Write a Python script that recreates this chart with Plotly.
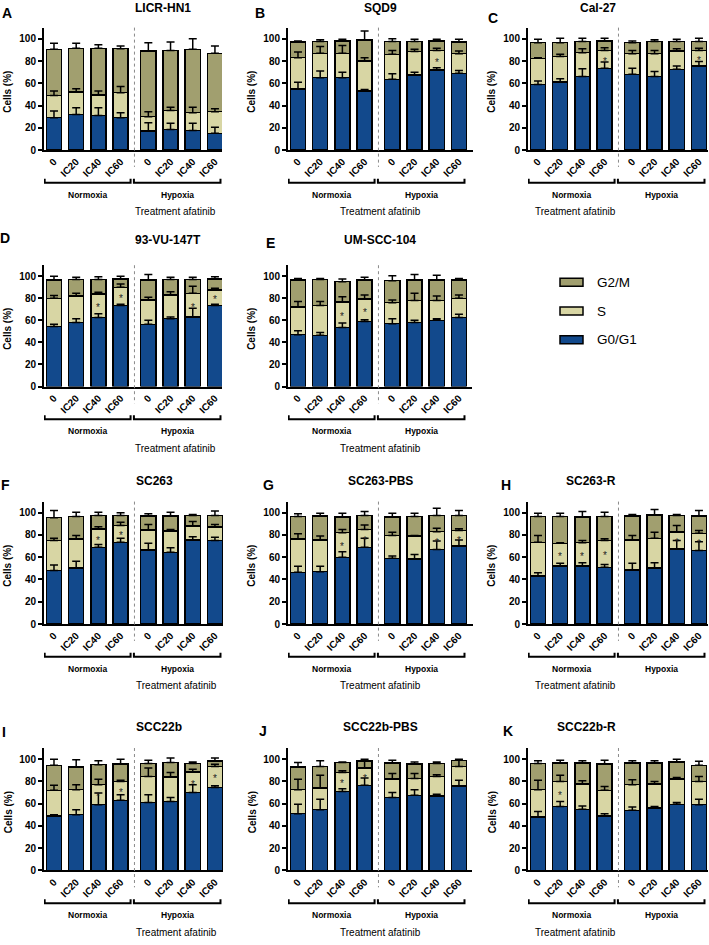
import plotly.graph_objects as go

# cell cycle phases, treatment doses and oxygen conditions
phases = ["G0/G1", "S", "G2/M"]
colors = ["#12498c", "#d8d6a4", "#a19f6f"]
doses = ["0", "IC20", "IC40", "IC60"]
conditions = ["Normoxia", "Hypoxia"]

# A  LICR-HN1  (segment % per bar: Normoxia 0..IC60, Hypoxia 0..IC60)
licr_g1 = [29, 32, 31, 29, 17, 18.5, 17.5, 15]
licr_s = [20, 20, 18.5, 22.5, 13, 17, 16, 19.5]
licr_g2m = [41.5, 39.5, 42, 39.5, 59, 54, 57, 52.5]
licr_g1_sd = [6, 6, 7, 4.5, 7.5, 5.5, 6.5, 5.5]
licr_s_sd = [4, 3, 3.5, 5.5, 4.5, 3, 5, 2.5]
licr_g2m_sd = [5.5, 4.5, 3, 2.5, 7.5, 7.5, 9.5, 6.5]
licr_stars = []

# B  SQD9
sqd9_g1 = [55, 65, 65, 53, 63.5, 67.5, 72, 69]
sqd9_s = [28, 22, 22, 27, 22.5, 21, 17.5, 17.5]
sqd9_g2m = [14, 10.5, 11, 19, 11.5, 9, 8.5, 10.5]
sqd9_g1_sd = [6, 6, 5, 1.5, 5, 2.5, 2, 2.5]
sqd9_s_sd = [5, 6, 7, 3, 3.5, 2, 2, 2.5]
sqd9_g2m_sd = [1, 1.5, 1.5, 8, 2.5, 2, 1.5, 2.5]
sqd9_stars = [6]

# C  Cal-27
cal_g1 = [59, 61, 66, 73.5, 68, 66, 72.5, 75.5]
cal_s = [23.5, 23, 21.5, 16, 18.5, 20.5, 16.5, 14]
cal_g2m = [14, 12.5, 10, 8.5, 10, 11, 8.5, 8]
cal_g1_sd = [3, 3, 7, 5.5, 5.5, 4.5, 3, 4]
cal_s_sd = [0.5, 2, 3.5, 2.5, 3, 3, 2, 2]
cal_g2m_sd = [3, 4, 3, 2.5, 1.5, 1.5, 2, 3]
cal_stars = [3, 7]

# D  93-VU-147T
vu_g1 = [54.5, 58, 62.5, 73.5, 56.5, 61.5, 63, 73.5]
vu_s = [25.5, 24, 21.5, 16.5, 22, 21.5, 21.5, 14]
vu_g2m = [16.5, 15, 13, 7.5, 18, 14, 12.5, 10]
vu_g1_sd = [2, 3.5, 3.5, 1, 3.5, 1.5, 8, 1]
vu_s_sd = [2.5, 2.5, 1.5, 3, 2.5, 3, 6.5, 1.5]
vu_g2m_sd = [3.5, 2, 2.5, 2.5, 5, 2, 2, 2]
vu_stars = [2, 3, 6, 7]

# E  UM-SCC-104
um_g1 = [47, 46.5, 53.5, 59, 57, 58, 60, 62.5]
um_s = [25, 27, 23, 20.5, 19, 20, 18, 17.5]
um_g2m = [24.5, 23.5, 18.5, 17, 20, 18.5, 18.5, 16.5]
um_g1_sd = [3.5, 2.5, 4, 1.5, 4.5, 2, 1.5, 3]
um_s_sd = [5, 3.5, 5, 3.5, 2.5, 6.5, 4, 3]
um_g2m_sd = [1.5, 1, 2.5, 2.5, 4.5, 5, 4.5, 1.5]
um_stars = [2, 3]

# F  SC263
sc_g1 = [48, 50.5, 69, 73.5, 66.5, 64.5, 75.5, 75]
sc_s = [27, 26, 16.5, 15, 18, 19, 12.5, 12]
sc_g2m = [20.5, 20, 12, 9, 12.5, 13.5, 9.5, 10.5]
sc_g1_sd = [5, 6, 2.5, 3.5, 6, 4, 3, 3]
sc_s_sd = [2, 3, 2, 3, 5, 1.5, 4, 2.5]
sc_g2m_sd = [6.5, 4, 3, 2.5, 2, 3.5, 1, 4]
sc_stars = [2, 3]

# G  SC263-PBS
scp_g1 = [46.5, 47, 60, 69, 59, 58.5, 67, 70]
scp_s = [30, 28.5, 22, 16, 20.5, 20.5, 16, 14]
scp_g2m = [20, 21.5, 14, 12.5, 16.5, 17.5, 14.5, 13.5]
scp_g1_sd = [5.5, 5, 5, 8, 2, 4, 7.5, 5.5]
scp_s_sd = [4.5, 3.5, 3, 4, 3, 0.5, 3, 1.5]
scp_g2m_sd = [2.5, 2.5, 3.5, 3.5, 3.5, 3, 6.5, 4.5]
scp_stars = [2, 3, 6, 7]

# H  SC263-R
scr_g1 = [43, 52, 52, 51, 48.5, 50.5, 67.5, 66]
scr_s = [30.5, 20.5, 21, 24, 27, 26.5, 15, 15.5]
scr_g2m = [23, 24, 23, 21.5, 21.5, 21, 15, 15.5]
scr_g1_sd = [3, 2.5, 3, 2.5, 6, 4.5, 7.5, 8]
scr_s_sd = [6, 0.5, 2, 1.5, 4, 5.5, 6, 2.5]
scr_g2m_sd = [3, 3, 5, 4, 1.5, 5, 1, 5]
scr_stars = [1, 2, 3, 6, 7]

# I  SCC22b
scc_g1 = [49, 50, 59, 63, 61, 62, 70, 74.5]
scc_s = [23, 22.5, 18, 17, 23.5, 22, 18.5, 19]
scc_g2m = [22.5, 20.5, 18, 15.5, 11.5, 13, 7.5, 5]
scc_g1_sd = [1, 4.5, 10.5, 5, 7, 3.5, 7, 1.5]
scc_s_sd = [4.5, 4.5, 5, 1, 7.5, 4, 2.5, 2]
scc_g2m_sd = [5.5, 6.5, 3.5, 4.5, 3, 4, 1.5, 2.5]
scc_stars = [2, 3, 6, 7]

# J  SCC22b-PBS
sccp_g1 = [51, 54.5, 71, 76.5, 65.5, 67.5, 67, 76]
sccp_s = [21.5, 19.5, 17, 15.5, 16.5, 15, 17.5, 17.5]
sccp_g2m = [20.5, 19.5, 9, 6.5, 14.5, 13, 11.5, 5.5]
sccp_g1_sd = [8.5, 9.5, 2.5, 6.5, 4.5, 5, 1.5, 5]
sccp_s_sd = [9.5, 11.5, 1.5, 6, 5, 4.5, 1.5, 5.5]
sccp_g2m_sd = [4, 5, 0.5, 1.5, 2.5, 2, 1.5, 1]
sccp_stars = [2, 3]

# K  SCC22b-R
sccr_g1 = [48, 57.5, 55, 49, 54, 56, 59.5, 59]
sccr_s = [24.5, 22.5, 22.5, 23, 23, 21.5, 22.5, 21]
sccr_g2m = [23.5, 16.5, 19, 23.5, 19.5, 19, 15.5, 14.5]
sccr_g1_sd = [5, 4.5, 3, 2, 3, 1.5, 1.5, 5]
sccr_s_sd = [8.5, 5.5, 3, 3.5, 4.5, 2.5, 1.5, 4.5]
sccr_g2m_sd = [2.5, 2.5, 2, 3.5, 2, 2, 2.5, 3.5]
sccr_stars = [1]


W, H = 709, 945
FONT = "Liberation Sans, Arial, sans-serif"
PX_UNIT = 22.2     # pixels per bar slot
GAP = 0.25         # extra space between normoxia and hypoxia groups
BAR_W = 0.68
X_LEFT = -0.45

rows = {
    1: dict(y0=151, y100=39, title=8),
    2: dict(y0=389, y100=278, title=242),
    3: dict(y0=628, y100=516, title=484),
    4: dict(y0=876, y100=764, title=732),
}

# letter, title, data, row, axis left px, axis right px, letter x, letter y
panels = [
    ("A", "LICR-HN1", (licr_g1, licr_s, licr_g2m, licr_g1_sd, licr_s_sd, licr_g2m_sd, licr_stars), 1, 44, 222, 7, 13),
    ("B", "SQD9", (sqd9_g1, sqd9_s, sqd9_g2m, sqd9_g1_sd, sqd9_s_sd, sqd9_g2m_sd, sqd9_stars), 1, 288, 473, 260, 13),
    ("C", "Cal-27", (cal_g1, cal_s, cal_g2m, cal_g1_sd, cal_s_sd, cal_g2m_sd, cal_stars), 1, 528, 708, 493, 18),
    ("D", "93-VU-147T", (vu_g1, vu_s, vu_g2m, vu_g1_sd, vu_s_sd, vu_g2m_sd, vu_stars), 2, 44, 222, 5, 240),
    ("E", "UM-SCC-104", (um_g1, um_s, um_g2m, um_g1_sd, um_s_sd, um_g2m_sd, um_stars), 2, 288, 472, 270, 245),
    ("F", "SC263", (sc_g1, sc_s, sc_g2m, sc_g1_sd, sc_s_sd, sc_g2m_sd, sc_stars), 3, 44, 223, 5, 488),
    ("G", "SC263-PBS", (scp_g1, scp_s, scp_g2m, scp_g1_sd, scp_s_sd, scp_g2m_sd, scp_stars), 3, 288, 473, 268, 488),
    ("H", "SC263-R", (scr_g1, scr_s, scr_g2m, scr_g1_sd, scr_s_sd, scr_g2m_sd, scr_stars), 3, 528, 708, 506, 488),
    ("I", "SCC22b", (scc_g1, scc_s, scc_g2m, scc_g1_sd, scc_s_sd, scc_g2m_sd, scc_stars), 4, 44, 223, 4, 737),
    ("J", "SCC22b-PBS", (sccp_g1, sccp_s, sccp_g2m, sccp_g1_sd, sccp_s_sd, sccp_g2m_sd, sccp_stars), 4, 288, 472, 263, 736),
    ("K", "SCC22b-R", (sccr_g1, sccr_s, sccr_g2m, sccr_g1_sd, sccr_s_sd, sccr_g2m_sd, sccr_stars), 4, 528, 708, 508, 736),
]


def px(x):
    return x / W


def py(y):
    return 1 - y / H


xs = [i + (GAP if i >= len(doses) else 0) for i in range(len(doses) * len(conditions))]
ticktext = doses * len(conditions)

fig = go.Figure()
shapes, annots = [], []

for k, (letter, title, data, row, xl, xr, lx, ly) in enumerate(panels, start=1):
    g1, s, g2m, g1_sd, s_sd, g2m_sd, stars = data
    r = rows[row]
    sfx = "" if k == 1 else str(k)
    xa, ya = "x" + sfx, "y" + sfx
    unit = (r["y0"] - r["y100"]) / 100
    ytop = r["y0"] - unit * 110
    x_right = X_LEFT + (xr - xl) / PX_UNIT

    fig.update_layout(**{
        "xaxis" + sfx: dict(domain=[px(xl), px(xr)], anchor=ya, range=[X_LEFT, x_right],
                            tickmode="array", tickvals=xs, ticktext=ticktext, tickangle=-45,
                            tickfont=dict(family=FONT, size=10, color="black", weight="bold"),
                            showline=True, linecolor="black", linewidth=2, ticks="",
                            showgrid=False, zeroline=False),
        "yaxis" + sfx: dict(domain=[py(r["y0"]), py(ytop)], anchor=xa, range=[0, 110],
                            tickmode="array", tickvals=[0, 20, 40, 60, 80, 100],
                            tickfont=dict(family=FONT, size=10, color="black", weight="bold"),
                            showline=True, linecolor="black", linewidth=2, ticks="outside",
                            ticklen=4, tickwidth=1.5, tickcolor="black",
                            showgrid=False, zeroline=False),
    })

    for seg, color, name in zip([g1, s, g2m], colors, phases):
        fig.add_trace(go.Bar(x=xs, y=seg, name=name, width=BAR_W, xaxis=xa, yaxis=ya,
                             marker=dict(color=color, line=dict(color="black", width=1.4)),
                             showlegend=False))

    t1 = list(g1)
    t2 = [a + b for a, b in zip(g1, s)]
    t3 = [a + b for a, b in zip(t2, g2m)]
    for tops, sd in zip([t1, t2, t3], [g1_sd, s_sd, g2m_sd]):
        fig.add_trace(go.Scatter(x=xs, y=tops, mode="markers", xaxis=xa, yaxis=ya,
                                 marker=dict(size=1, color="rgba(0,0,0,0)"), showlegend=False,
                                 error_y=dict(type="data", symmetric=False, array=sd,
                                              arrayminus=[0] * len(sd), color="black",
                                              thickness=1.5, width=4)))

    for i in stars:
        annots.append(dict(x=xs[i], y=g1[i] + s[i] / 2, xref=xa, yref=ya, text="*",
                           showarrow=False, yshift=-2, font=dict(family=FONT, size=10, color="#222")))

    # separator between normoxia and hypoxia
    xsep = (len(doses) - 0.5) + GAP / 2
    shapes.append(dict(type="line", xref=xa, yref="paper", x0=xsep, x1=xsep,
                       y0=py(ytop), y1=py(r["y0"] + 17),
                       line=dict(color="#8a8a8a", width=1, dash="dot")))

    # group brackets
    by, bt = py(r["y0"] + 33), py(r["y0"] + 29)
    for (a, b), cond in zip([(-0.42, 3.45), (3.6, 7.5)], conditions):
        shapes.append(dict(type="path", xref=xa, yref="paper",
                           path=f"M{a},{bt} L{a},{by} L{b},{by} L{b},{bt}",
                           line=dict(color="black", width=2)))
        annots.append(dict(x=(a + b) / 2, y=py(r["y0"] + 45), xref=xa, yref="paper",
                           text=cond, showarrow=False, xanchor="center", yanchor="middle",
                           font=dict(family=FONT, size=8.5, color="black", weight="bold")))

    annots.append(dict(x=px((xl + xr) / 2), y=py(r["y0"] + 62), xref="paper", yref="paper",
                       text="Treatment afatinib", showarrow=False, yanchor="middle",
                       font=dict(family=FONT, size=10, color="black")))
    annots.append(dict(x=px((xl + xr) / 2), y=py(r["title"]), xref="paper", yref="paper",
                       text=title, showarrow=False, yanchor="middle",
                       font=dict(family=FONT, size=12, color="black", weight="bold")))
    annots.append(dict(x=px(lx), y=py(ly), xref="paper", yref="paper", text=letter,
                       showarrow=False, yanchor="middle", xanchor="center",
                       font=dict(family=FONT, size=14, color="black", weight="bold")))
    annots.append(dict(x=px(xl - 36), y=py((r["y0"] + ytop) / 2 + 3), xref="paper", yref="paper",
                       text="Cells (%)", textangle=-90, showarrow=False,
                       xanchor="center", yanchor="middle",
                       font=dict(family=FONT, size=10, color="black", weight="bold")))

# legend drawn by hand: G2/M, S, G0/G1 from top
for j, (name, color) in enumerate(list(zip(phases, colors))[::-1]):
    yc = 284 + 29 * j
    shapes.append(dict(type="rect", xref="paper", yref="paper",
                       x0=px(560), x1=px(583), y0=py(yc + 4), y1=py(yc - 4),
                       fillcolor=color, line=dict(color="black", width=1.5)))
    annots.append(dict(x=px(595), y=py(yc), xref="paper", yref="paper", text=name,
                       showarrow=False, xanchor="left", yanchor="middle",
                       font=dict(family=FONT, size=13.5, color="black")))

fig.update_layout(
    width=W, height=H,
    margin=dict(l=0, r=0, t=0, b=0),
    barmode="stack",
    showlegend=False,
    paper_bgcolor="white",
    plot_bgcolor="white",
    shapes=shapes,
    annotations=annots,
    font=dict(family=FONT, color="black"),
)

# the page body has a default margin; drop it so the figure fills the window
fig.write_html("out.html", config={"displayModeBar": False},
               post_script="document.body.style.margin='0px';")
